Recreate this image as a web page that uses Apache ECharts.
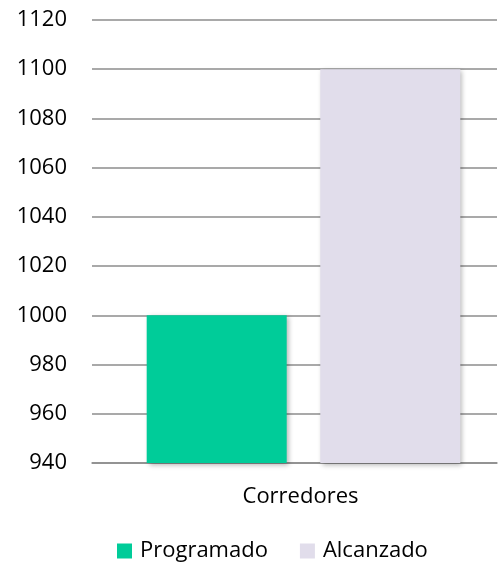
<!DOCTYPE html>
<html>
<head>
<meta charset="utf-8">
<script src="https://cdn.jsdelivr.net/npm/echarts@6/dist/echarts.min.js"></script>
<style>html,body{margin:0;padding:0;background:#fff;}#c{width:502px;height:568px;}</style>
</head>
<body>
<div id="c"></div>
<script>
const categories = ["Corredores"];
const seriesNames = ["Programado", "Alcanzado"];
const programado = [1000];
const alcanzado = [1100];
const colors = ["#00CC99", "#E1DDEB"];

const font = "'Open Sans', 'Noto Sans', sans-serif";
const chart = echarts.init(document.getElementById('c'));
const shadow = {shadowBlur: 5, shadowOffsetX: 2, shadowOffsetY: 2, shadowColor: 'rgba(0,0,0,0.3)'};
chart.setOption({
  animation: false,
  grid: [
    {left: 92, right: 5, top: 20, bottom: 105},
    {left: 110, right: 5, top: 20, bottom: 105}
  ],
  legend: {
    top: 540, left: 117, padding: 0, itemWidth: 15, itemHeight: 15, itemGap: 32,
    icon: 'rect',
    textStyle: {fontFamily: font, fontSize: 22, color: '#000', padding: [0, 0, 0, 3]},
    data: seriesNames
  },
  xAxis: [
    {type: 'category', gridIndex: 0, data: categories,
     axisLine: {show: true, lineStyle: {color: '#8c8c8c', width: 1.5}},
     axisTick: {show: false}, axisLabel: {show: false}},
    {type: 'category', gridIndex: 1, data: categories,
     axisLine: {show: false}, axisTick: {show: false},
     axisLabel: {fontFamily: font, fontSize: 22, color: '#000', margin: 23, padding: [0, 6, 0, 0]}}
  ],
  yAxis: [
    {type: 'value', gridIndex: 0, min: 940, max: 1120, interval: 20,
     axisLine: {show: false}, axisTick: {show: false},
     axisLabel: {fontFamily: font, fontSize: 22, color: '#000', margin: 25, formatter: v => String(v)},
     splitLine: {lineStyle: {color: '#8c8c8c', width: 1.5}}},
    {type: 'value', gridIndex: 1, min: 940, max: 1120, interval: 20,
     axisLine: {show: false}, axisTick: {show: false},
     axisLabel: {show: false}, splitLine: {show: false}}
  ],
  series: [
    {name: seriesNames[0], type: 'bar', xAxisIndex: 1, yAxisIndex: 1, data: programado, barWidth: 140, barGap: '24%',
     itemStyle: Object.assign({color: colors[0]}, shadow)},
    {name: seriesNames[1], type: 'bar', xAxisIndex: 1, yAxisIndex: 1, data: alcanzado, barWidth: 140,
     itemStyle: Object.assign({color: colors[1]}, shadow)}
  ]
});
</script>
</body>
</html>
